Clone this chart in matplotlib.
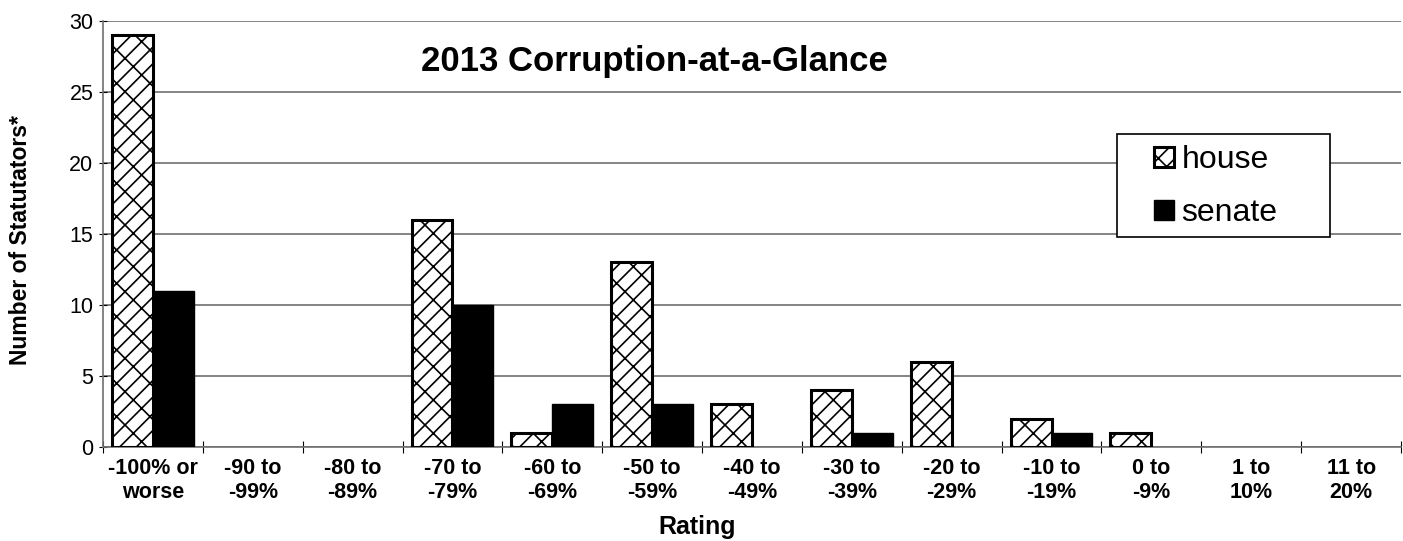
import matplotlib.pyplot as plt
import matplotlib.patches as mpatches
import numpy as np

plt.rcParams['font.family'] = ['Liberation Sans', 'DejaVu Sans']
plt.rcParams['hatch.linewidth'] = 1.2

categories = ['-100% or\nworse', '-90 to\n-99%', '-80 to\n-89%', '-70 to\n-79%', '-60 to\n-69%',
              '-50 to\n-59%', '-40 to\n-49%', '-30 to\n-39%', '-20 to\n-29%', '-10 to\n-19%',
              '0 to\n-9%', '1 to\n10%', '11 to\n20%']
house = [29, 0, 0, 16, 1, 13, 3, 4, 6, 2, 1, 0, 0]
senate = [11, 0, 0, 10, 3, 3, 0, 1, 0, 1, 0, 0, 0]

W, H = 1403, 541
fig = plt.figure(figsize=(W / 100, H / 100), dpi=100)
ax = fig.add_axes([103 / W, 1 - 447 / H, 1298 / W, 426 / H])

x = np.arange(len(categories))
w = 0.41
hb = ax.bar(x - w / 2, house, w, color='white', edgecolor='black', hatch='/x', linewidth=2.2, label='house', zorder=3)
sb = ax.bar(x + w / 2, senate, w, color='black', edgecolor='black', linewidth=1, label='senate', zorder=3)
# hide zero-height bars
for b in list(hb) + list(sb):
    if b.get_height() == 0:
        b.set_visible(False)

ax.set_xlim(-0.5, len(categories) - 0.5)
ax.set_ylim(0, 30)
ax.set_yticks(range(0, 31, 5))
ax.yaxis.grid(True, color='#707070', linewidth=1.2)
ax.set_axisbelow(True)
ax.spines['top'].set_visible(False)
ax.spines['right'].set_visible(False)
ax.spines['left'].set_color('#707070')
ax.spines['bottom'].set_color('#707070')
ax.spines['left'].set_linewidth(1.2)
ax.spines['bottom'].set_linewidth(1.2)

ax.set_xticks(np.arange(-0.5, len(categories), 1), minor=False)
ax.set_xticklabels([])
ax.set_xticks(x, minor=True)
ax.set_xticklabels(categories, minor=True, fontsize=15.5, fontweight='bold', linespacing=1.15)
ax.tick_params(axis='x', which='minor', length=0, pad=8)
ax.tick_params(axis='x', which='major', length=9, direction='inout', color='black')
ax.tick_params(axis='y', length=6, direction='inout', labelsize=15.5, color='black', pad=4)

ax.text((697 - 103) / 1298, -(527 - 447) / 426, 'Rating', transform=ax.transAxes, ha='center', va='center',
        fontsize=18, fontweight='bold')
fig.text(21 / W, 1 - 240 / H, 'Number of Statutators*', rotation=90, ha='center', va='center',
         fontsize=16.5, fontweight='bold')

ax.text((654 - 103) / 1298, (447 - 62) / 426, '2013 Corruption-at-a-Glance', transform=ax.transAxes,
        ha='center', va='center', fontsize=25, fontweight='bold')

# legend frame drawn as a box, legend entries placed inside it
frame = mpatches.Rectangle((1117 / W, 1 - 237 / H), 213 / W, 103 / H, transform=fig.transFigure,
                           facecolor='white', edgecolor='black', linewidth=1.2, zorder=4, clip_on=False)
ax.add_patch(frame)
leg = ax.legend(loc='center', bbox_to_anchor=(1216 / W, 1 - 187 / H), bbox_transform=fig.transFigure,
                fontsize=23, frameon=False, handlelength=0.6, handleheight=0.6, handletextpad=0.25,
                borderpad=0.2, labelspacing=0.72)
leg.set_zorder(5)

fig.savefig('out.png', dpi=100)
